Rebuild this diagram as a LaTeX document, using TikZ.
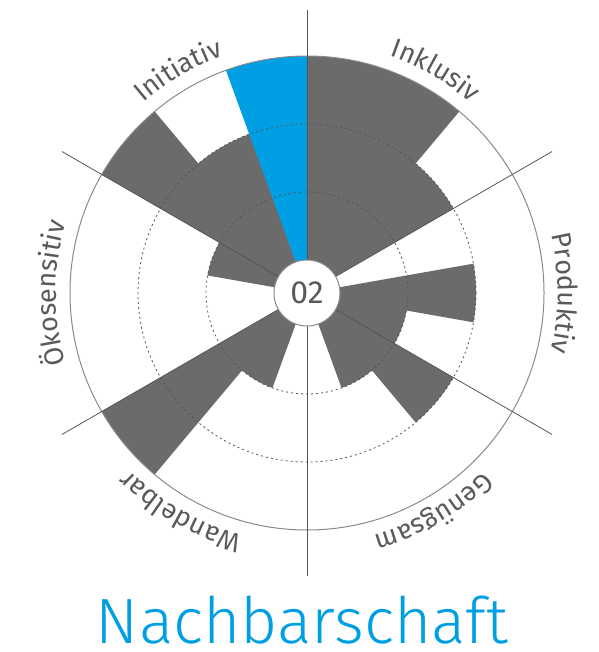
\documentclass[tikz,border=0pt]{standalone}
\usepackage{fontspec}
\setmainfont{Fira Sans}
\newfontfamily\thinfont{Fira Sans Light}
\usetikzlibrary{decorations.text}
\definecolor{bargray}{HTML}{6B6B6B}
\definecolor{nbblue}{HTML}{009FE3}
\definecolor{txtgray}{HTML}{5A5A5A}
\definecolor{linegray}{HTML}{8A8A8A}
\definecolor{axisgray}{HTML}{555555}
\tikzset{
  bar/.style={fill=bargray},
  bluebar/.style={fill=nbblue},
  dashring/.style={draw=axisgray, line width=0.8pt, dash pattern=on 2pt off 3pt},
  outerring/.style={draw=linegray, line width=1pt},
  axisline/.style={draw=axisgray, line width=0.8pt},
  hub/.style={circle, fill=white, draw=linegray, line width=1pt, minimum size=66pt, inner sep=0pt, text=txtgray, font=\fontsize{32}{32}\selectfont},
  labelpath/.style={decorate, decoration={text along path, text align=center, text={#1}}}
}
\newcommand{\lbf}{\fontsize{27}{27}\selectfont\color{txtgray}}
\begin{document}
\begin{tikzpicture}[x=1pt,y=1pt]
\useasboundingbox (0,0) rectangle (598,-652);
\begin{scope}[shift={(307,-293)}]
  % bars (merged where adjacent to avoid seams)
  \path[bar] (0,0) -- (290:101) arc[start angle=290, end angle=310, radius=101]
    -- (310:169) arc[start angle=310, end angle=330, radius=169]
    -- (330:101) arc[start angle=330, end angle=350, radius=101]
    -- (350:169) arc[start angle=350, end angle=370, radius=169] -- cycle;
  \path[bar] (0,0) -- (30:169) arc[start angle=30, end angle=50, radius=169]
    -- (50:237) arc[start angle=50, end angle=90.4, radius=237] -- cycle;
  \path[bar] (0,0) -- (109.6:169) arc[start angle=109.6, end angle=130, radius=169]
    -- (130:237) arc[start angle=130, end angle=150, radius=237]
    -- (150:101) arc[start angle=150, end angle=170, radius=101] -- cycle;
  \path[bar] (0,0) -- (210:237) arc[start angle=210, end angle=230, radius=237]
    -- (230:101) arc[start angle=230, end angle=250, radius=101] -- cycle;
  \path[bluebar] (0,0) -- (90:237) arc[start angle=90, end angle=110, radius=237] -- cycle;
  % rings
  \path[dashring] (0,0) circle[radius=101];
  \path[dashring] (0,0) circle[radius=169];
  \path[outerring] (0,0) circle[radius=237];
  % axes
  \foreach \a in {30,90,150,210,270,330}
    \path[axisline] (0,0) -- (\a:283);
  % hub
  \node[hub] (c) at (0,0) {02};
  % labels
  \path[labelpath={|\lbf|Inklusiv}] (105:251) arc[start angle=105, end angle=15, radius=251];
  \path[labelpath={|\lbf|Initiativ}] (165:251) arc[start angle=165, end angle=75, radius=251];
  \path[labelpath={|\lbf|Ökosensitiv}] (225:251) arc[start angle=225, end angle=135, radius=251];
  \path[labelpath={|\lbf|Wandelbar}] (285:251) arc[start angle=285, end angle=195, radius=251];
  \path[labelpath={|\lbf|Genügsam}] (345:251) arc[start angle=345, end angle=255, radius=251];
  \path[labelpath={|\lbf|Produktiv}] (45:251) arc[start angle=45, end angle=-45, radius=251];
\end{scope}
\node[anchor=base, inner sep=0pt, text=nbblue, font=\thinfont\fontsize{64}{64}\selectfont] (title) at (302,-643) {Nachbarschaft};
\end{tikzpicture}
\end{document}
